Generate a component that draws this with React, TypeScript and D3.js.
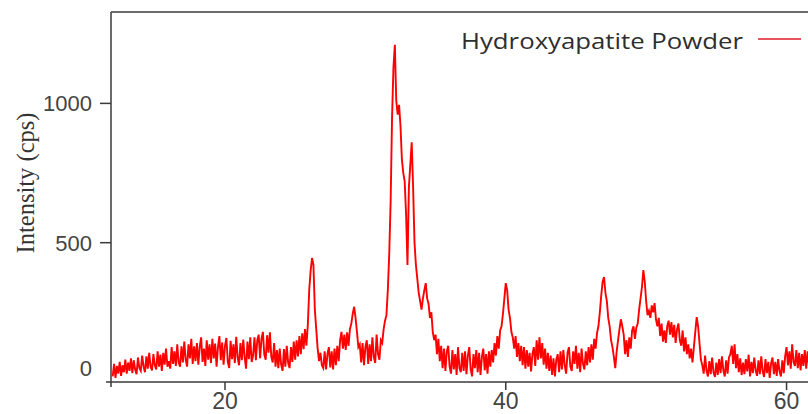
import React, { useEffect, useRef } from "react";
import * as d3 from "d3";

// 2-theta start and step of the scan (degrees)
const scanStart = 12.0;
const scanStep = 0.1;

// intensities (cps) in 5 degree blocks
const block12to17 = [
  20, 65, 15, 58, 30, 72, 22, 60, 35, 80,
  30, 70, 40, 85, 32, 78, 45, 28, 88, 50,
  40, 95, 55, 35, 92, 48, 105, 55, 42, 100,
  60, 45, 110, 55, 98, 40, 105, 62, 120, 55,
  75, 48, 125, 65, 110, 58, 135, 70, 55, 128,
];
const block17to22 = [
  70, 145, 80, 55, 135, 85, 155, 65, 128, 75,
  140, 62, 125, 160, 72, 120, 58, 150, 80, 135,
  68, 155, 85, 138, 55, 125, 165, 78, 142, 62,
  130, 158, 72, 50, 148, 82, 135, 68, 162, 88,
  60, 140, 78, 152, 90, 48, 145, 82, 160, 72,
];
const block22to27 = [
  95, 160, 78, 150, 170, 85, 155, 180, 98, 80,
  168, 105, 178, 90, 70, 140, 55, 115, 50, 120,
  62, 40, 118, 55, 130, 68, 50, 125, 72, 145,
  80, 150, 92, 165, 100, 175, 118, 190, 130, 205,
  330, 400, 445, 420, 260, 190, 120, 75, 105, 60,
];
const block27to32 = [
  50, 110, 45, 100, 125, 52, 110, 45, 120, 60,
  130, 75, 150, 180, 120, 170, 115, 178, 130, 190,
  210, 245, 270, 230, 180, 125, 135, 70, 140, 60,
  125, 150, 65, 135, 75, 160, 90, 68, 170, 100,
  80, 150, 140, 190, 220, 240, 330, 460, 650, 950,
];
const block32to37 = [
  1130, 1210, 1010, 960, 995, 920, 800, 750, 720, 600,
  420, 700, 780, 860, 700, 500, 420, 370, 320, 290,
  260, 300, 330, 355, 300, 280, 230, 250, 180, 150,
  170, 100, 155, 75, 130, 50, 120, 40, 110, 130,
  55, 30, 115, 45, 100, 25, 125, 50, 35, 105,
];
const block37to42 = [
  40, 110, 28, 95, 125, 45, 20, 100, 50, 115,
  35, 105, 25, 90, 120, 42, 100, 30, 110, 55,
  115, 70, 140, 95, 165, 120, 185, 200, 245, 300,
  355, 330, 260, 230, 180, 160, 120, 165, 90, 140,
  75, 130, 60, 125, 48, 115, 55, 105, 38, 100,
];
const block42to47 = [
  125, 58, 150, 80, 160, 85, 140, 62, 120, 48,
  105, 40, 95, 25, 85, 20, 80, 100, 35, 110,
  45, 115, 60, 30, 105, 125, 55, 40, 110, 65,
  130, 48, 105, 35, 120, 65, 45, 110, 60, 125,
  70, 135, 80, 155, 120, 175, 200, 250, 310, 360,
];
const block47to52 = [
  377, 320, 290, 230, 200, 150, 125, 90, 50, 110,
  150, 190, 225, 200, 170, 100, 150, 90, 160, 120,
  185, 200, 155, 195, 210, 260, 300, 340, 402, 360,
  290, 240, 255, 230, 275, 250, 283, 225, 200, 230,
  165, 210, 145, 185, 140, 200, 220, 170, 215, 160,
];
const block52to57 = [
  205, 140, 190, 210, 150, 130, 185, 110, 160, 100,
  135, 85, 120, 70, 125, 180, 233, 200, 140, 80,
  60, 30, 95, 40, 20, 75, 28, 88, 35, 18,
  70, 25, 82, 32, 92, 42, 20, 78, 30, 88,
  100, 130, 65, 135, 50, 100, 35, 85, 25, 70,
];
const block57to62 = [
  28, 82, 38, 98, 20, 72, 32, 88, 42, 22,
  78, 28, 92, 38, 18, 82, 32, 72, 15, 68,
  88, 28, 72, 22, 82, 38, 20, 78, 32, 92,
  125, 60, 110, 48, 135, 72, 58, 115, 50, 105,
  42, 100, 58, 115, 48, 110, 62,
];

const xTicks = [20, 40, 60];
const yTicks = [0, 500, 1000];
const seriesName = "Hydroxyapatite Powder";

export default function App() {
  const svgRef = useRef<SVGSVGElement>(null);
  const width = 808;
  const height = 414;

  useEffect(() => {
    const svg = d3.select(svgRef.current);
    svg.selectAll("*").remove();

    const counts = ([] as number[]).concat(
      block12to17, block17to22, block22to27, block27to32, block32to37,
      block37to42, block42to47, block47to52, block52to57, block57to62
    );
    const data = counts.map((c, i) => ({ x: scanStart + i * scanStep, y: c }));

    const left = 111, top = 12, bottom = 382;
    const x = d3.scaleLinear().domain([11.88, 61.6]).range([left, 809]);
    const y = d3.scaleLinear().domain([0, 1328]).range([bottom, top]);

    svg.append("clipPath").attr("id", "plot")
      .append("rect").attr("x", left).attr("y", top)
      .attr("width", width - left).attr("height", bottom - top);

    const line = d3.line<{ x: number; y: number }>()
      .x((d) => x(d.x))
      .y((d) => y(d.y));

    svg.append("path")
      .datum(data)
      .attr("clip-path", "url(#plot)")
      .attr("d", line)
      .style("fill", "none")
      .style("stroke", "#ff0000")
      .style("stroke-width", 1.9)
      .style("stroke-linejoin", "miter");

    const axisColor = "#3a3a3a";
    // frame: left axis, bottom axis, top border
    svg.append("line").attr("x1", left).attr("x2", left).attr("y1", top).attr("y2", bottom)
      .style("stroke", axisColor).style("stroke-width", 1.5);
    svg.append("line").attr("x1", left - 5).attr("x2", width).attr("y1", bottom).attr("y2", bottom)
      .style("stroke", axisColor).style("stroke-width", 1.5);
    svg.append("line").attr("x1", left).attr("x2", width).attr("y1", top).attr("y2", top)
      .style("stroke", axisColor).style("stroke-width", 1.5);

    // x ticks
    const xt = svg.append("g");
    xt.selectAll("line").data([11.88, ...xTicks]).enter().append("line")
      .attr("x1", (d) => x(d)).attr("x2", (d) => x(d))
      .attr("y1", bottom).attr("y2", (d, i) => (i === 0 ? bottom + 5 : bottom + 8))
      .style("stroke", axisColor).style("stroke-width", 1.5);
    xt.selectAll("text").data(xTicks).enter().append("text")
      .attr("x", (d) => x(d)).attr("y", 409)
      .attr("text-anchor", "middle")
      .style("font-family", "'Liberation Sans', Arial, sans-serif")
      .style("font-size", "23px")
      .style("fill", "#444")
      .text((d) => d);

    // y ticks
    const yt = svg.append("g");
    yt.selectAll("line").data(yTicks.filter((d) => d > 0)).enter().append("line")
      .attr("x1", left - 11).attr("x2", left)
      .attr("y1", (d) => y(d)).attr("y2", (d) => y(d))
      .style("stroke", axisColor).style("stroke-width", 1.5);
    yt.selectAll("text").data(yTicks).enter().append("text")
      .attr("x", 92)
      .attr("y", (d) => (d === 0 ? y(d) - 14 : y(d)))
      .attr("dy", "0.36em")
      .attr("text-anchor", "end")
      .style("font-family", "'Liberation Sans', Arial, sans-serif")
      .style("font-size", "22px")
      .style("fill", "#444")
      .text((d) => d);

    // y title
    svg.append("text")
      .attr("transform", "translate(25,183) rotate(-90)")
      .attr("text-anchor", "middle")
      .attr("dy", "0.33em")
      .attr("textLength", 141)
      .attr("lengthAdjust", "spacingAndGlyphs")
      .style("font-family", "'Liberation Serif', 'Times New Roman', serif")
      .style("font-size", "26px")
      .style("fill", "#333")
      .text("Intensity (cps)");

    // legend
    svg.append("text")
      .attr("x", 461).attr("y", 49)
      .attr("textLength", 282)
      .attr("lengthAdjust", "spacingAndGlyphs")
      .style("font-family", "'Open Sans', 'Noto Sans', sans-serif")
      .style("font-size", "22px")
      .style("fill", "#2e2e2e")
      .text(seriesName);
    svg.append("line")
      .attr("x1", 758).attr("x2", 801).attr("y1", 39).attr("y2", 39)
      .style("stroke", "#e8555f").style("stroke-width", 2);
  }, []);

  return (
    <svg
      ref={svgRef}
      width={width}
      height={height}
      style={{ position: "absolute", left: 0, top: 0, background: "#fff" }}
    />
  );
}
